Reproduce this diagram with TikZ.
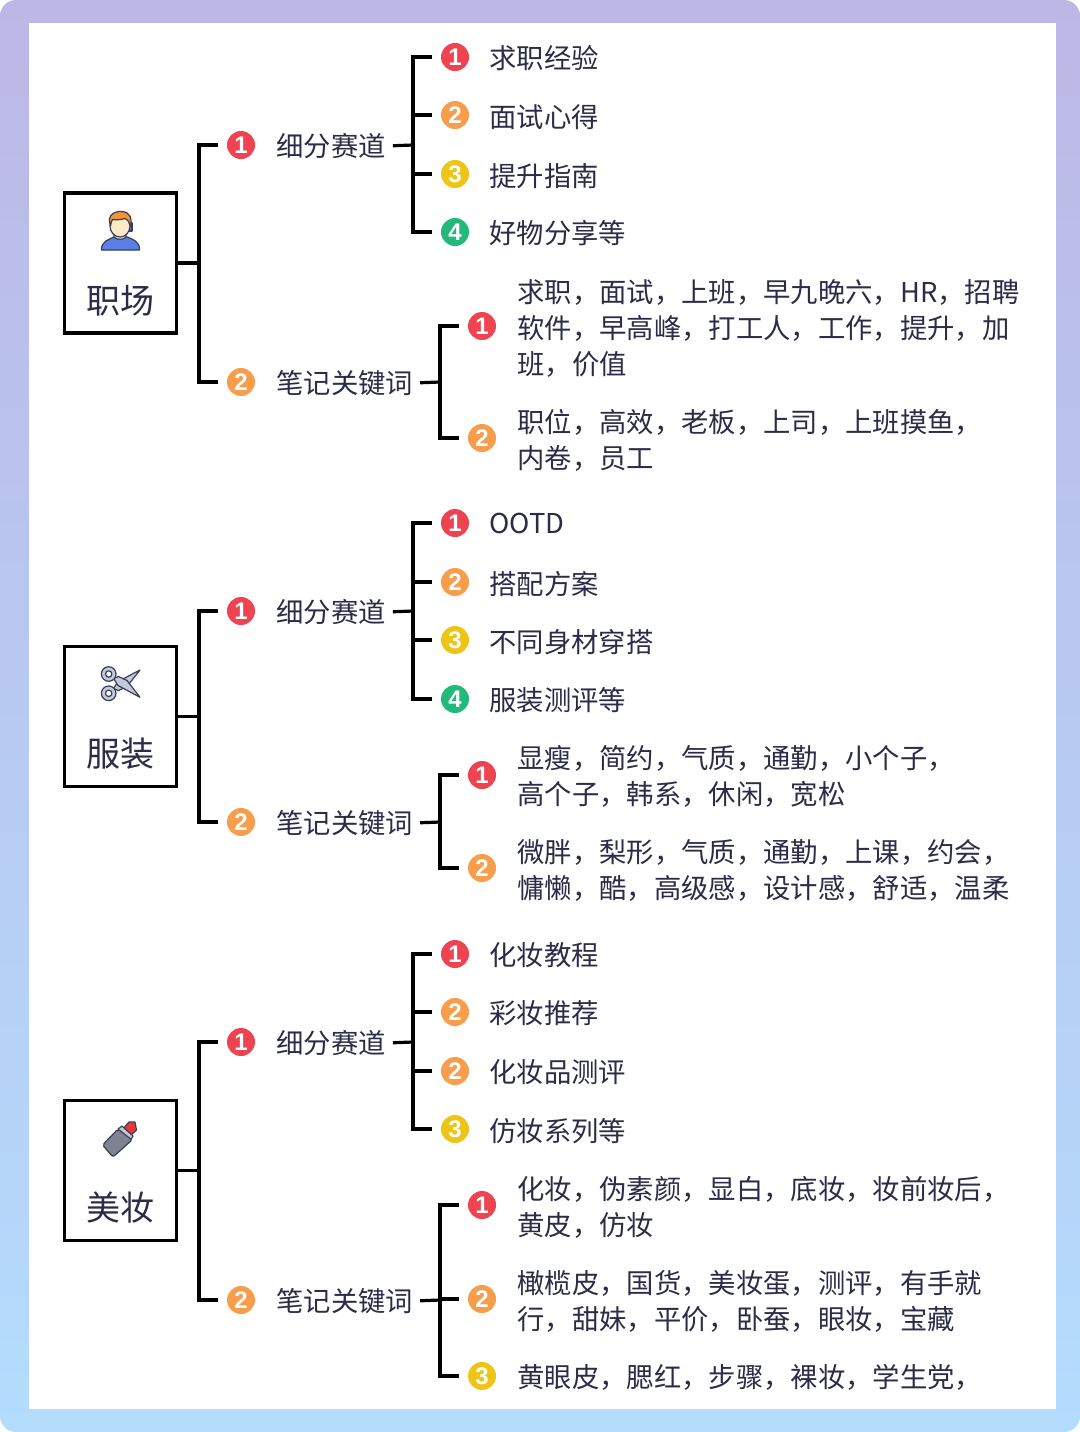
\documentclass[tikz,border=0pt]{standalone}
\usepackage{fontspec}
\setmainfont{Noto Sans CJK SC}
\newfontfamily\digitfont{Liberation Sans}
\definecolor{cred}{HTML}{EE4350}
\definecolor{corange}{HTML}{F79D4B}
\definecolor{cyellow}{HTML}{ECC516}
\definecolor{cgreen}{HTML}{22B97C}
\definecolor{ink}{HTML}{2C2C48}
\definecolor{icoline}{HTML}{3A3F55}
\definecolor{bgtop}{HTML}{BDB7E6}
\definecolor{bgbot}{HTML}{B3DCFD}
\definecolor{icoblue}{HTML}{5B7FE6}
\definecolor{icohair}{HTML}{F5923A}
\definecolor{icoskin}{HTML}{FBEBC8}
\definecolor{icogrey}{HTML}{C3C8DC}
\definecolor{icobody}{HTML}{7D8390}
\definecolor{icored}{HTML}{E23B3B}
\tikzset{
  conn/.style={draw=black,line width=2.4pt,line cap=butt,line join=miter},
  elbow/.style={conn,shorten >=6.75pt},
  stem/.style={conn,shorten <=5pt},
  rootbox/.style={draw=black,line width=2.8pt,fill=white,minimum width=84pt,minimum height=105pt,inner sep=0pt,outer sep=0pt},
  rootlabel/.style={font=\fontsize{25.5}{30}\selectfont,text=ink,inner sep=0pt},
  sublabel/.style={font=\fontsize{20.5}{27}\selectfont,text=ink,inner sep=0pt,anchor=west,xshift=-0.5pt},
  leaf/.style={font=\fontsize{20.5}{27}\selectfont,text=ink,inner sep=0pt,anchor=west,align=left,xshift=-0.5pt},
  badge/.style={circle,minimum size=21pt,inner sep=0pt,outer sep=0pt,text=white,font=\digitfont\bfseries\fontsize{18}{18}\selectfont},
  ico/.style={draw=icoline,line width=0.9pt,line join=round},
}
\newcommand{\bdg}[5]{\node[badge,fill=#4] (#1) at (#2,#3) {#5};}
\begin{document}
\begin{tikzpicture}[x=0.75pt,y=-0.75pt]
\useasboundingbox (0,0) rectangle (1080,1432);
\shade[top color=bgtop,bottom color=bgbot,rounded corners=12pt] (0,0) rectangle (1080,1432);
\fill[white] (29,23) rectangle (1056,1409);

% ---------- group 1
\node[rootbox] (boxA) at (120.5,263) {};
\node[rootlabel] (nameA) at (120.5,301) {职场};
\coordinate (jA) at (199,263);
\bdg{aA}{241}{145}{cred}{1}
\bdg{aB}{241}{382}{corange}{2}
\node[sublabel] (subA1) at (277,146) {细分赛道};
\node[sublabel] (subA2) at (277,383) {笔记关键词};
\coordinate (jA1) at (413,145);
\coordinate (jA2) at (440,382);
\bdg{a11}{455}{57}{cred}{1}
\bdg{a12}{455}{115}{corange}{2}
\bdg{a13}{455}{174}{cyellow}{3}
\bdg{a14}{455}{232}{cgreen}{4}
\node[leaf] (ta11) at (490,58) {求职经验};
\node[leaf] (ta12) at (490,117) {面试心得};
\node[leaf] (ta13) at (490,176) {提升指南};
\node[leaf] (ta14) at (490,233) {好物分享等};
\bdg{a21}{482}{326}{cred}{1}
\bdg{a22}{482}{438}{corange}{2}
\node[leaf] (ta21) at (518,328) {求职，面试，上班，早九晚六，HR，招聘\\软件，早高峰，打工人，工作，提升，加\\班，价值};
\node[leaf] (ta22) at (518,440) {职位，高效，老板，上司，上班摸鱼，\\内卷，员工};
\draw[conn] (boxA.east) -- (jA);
\draw[elbow] (jA) |- (aA);
\draw[elbow] (jA) |- (aB);
\draw[stem] (subA1.east) -- (jA1);
\draw[stem] (subA2.east) -- (jA2);
\foreach \t in {a11,a12,a13,a14} \draw[elbow] (jA1) |- (\t);
\foreach \t in {a21,a22} \draw[elbow] (jA2) |- (\t);

% person icon
\filldraw[ico,fill=icoblue] (101.5,250) .. controls (101,241) and (110,239) .. (115,236.5) -- (126,236.5) .. controls (132,239) and (140,241) .. (139.5,250) -- cycle;
\filldraw[ico,fill=icoskin] (114,231) -- (114,237) .. controls (116,240) and (124,240) .. (126,237) -- (126,231) -- cycle;
\filldraw[ico,fill=icoblue] (128,223) rectangle (132,231);
\filldraw[ico,fill=icoskin] (120,226) ellipse (10 and 11);
\filldraw[ico,fill=icohair] (110.5,226) .. controls (106,214) and (116,211) .. (122,211.5) .. controls (130,212) and (133,219) .. (130,226) .. controls (129,221) and (127,219) .. (125,218.5) .. controls (120,220) and (115,220) .. (112.5,219.5) .. controls (111.5,221) and (111,223) .. (110.5,226) -- cycle;

% ---------- group 2
\node[rootbox] (boxB) at (120.5,716.5) {};
\node[rootlabel] (nameB) at (120.5,754) {服装};
\coordinate (jB) at (199,716.5);
\bdg{bA}{241}{611}{cred}{1}
\bdg{bB}{241}{822}{corange}{2}
\node[sublabel] (subB1) at (277,612) {细分赛道};
\node[sublabel] (subB2) at (277,823) {笔记关键词};
\coordinate (jB1) at (413,611);
\coordinate (jB2) at (440,822);
\bdg{b11}{455}{523}{cred}{1}
\bdg{b12}{455}{582}{corange}{2}
\bdg{b13}{455}{640}{cyellow}{3}
\bdg{b14}{455}{699}{cgreen}{4}
\node[leaf] (tb11) at (490,523) {OOTD};
\node[leaf] (tb12) at (490,584) {搭配方案};
\node[leaf] (tb13) at (490,642) {不同身材穿搭};
\node[leaf] (tb14) at (490,700) {服装测评等};
\bdg{b21}{482}{775}{cred}{1}
\bdg{b22}{482}{868}{corange}{2}
\node[leaf] (tb21) at (518,776) {显瘦，简约，气质，通勤，小个子，\\高个子，韩系，休闲，宽松};
\node[leaf] (tb22) at (518,870) {微胖，梨形，气质，通勤，上课，约会，\\慵懒，酷，高级感，设计感，舒适，温柔};
\draw[conn] (boxB.east) -- (jB);
\draw[elbow] (jB) |- (bA);
\draw[elbow] (jB) |- (bB);
\draw[stem] (subB1.east) -- (jB1);
\draw[stem] (subB2.east) -- (jB2);
\foreach \t in {b11,b12,b13,b14} \draw[elbow] (jB1) |- (\t);
\foreach \t in {b21,b22} \draw[elbow] (jB2) |- (\t);

% scissors icon
\filldraw[ico,fill=icogrey] (113.5,688.5) -- (118,681.5) -- (140,670) -- (127,686.5) -- (118.5,690.5) -- cycle;
\filldraw[ico,fill=icogrey] (113.5,678.5) -- (118,685.5) -- (140,697.3) -- (127,680.5) -- (118.5,676.5) -- cycle;
\filldraw[ico,fill=icogrey,even odd rule] (108.7,674) circle (7.3) (108.7,674) circle (3.2);
\filldraw[ico,fill=icogrey,even odd rule] (108.7,693.3) circle (7.3) (108.7,693.3) circle (3.2);

% ---------- group 3
\node[rootbox] (boxC) at (120.5,1170.5) {};
\node[rootlabel] (nameC) at (120.5,1208) {美妆};
\coordinate (jC) at (199,1170.5);
\bdg{cA}{241}{1042}{cred}{1}
\bdg{cB}{241}{1300}{corange}{2}
\node[sublabel] (subC1) at (277,1043) {细分赛道};
\node[sublabel] (subC2) at (277,1301) {笔记关键词};
\coordinate (jC1) at (413,1042);
\coordinate (jC2) at (440,1300);
\bdg{c11}{455}{954}{cred}{1}
\bdg{c12}{455}{1012}{corange}{2}
\bdg{c13}{455}{1071}{corange}{2}
\bdg{c14}{455}{1129}{cyellow}{3}
\node[leaf] (tc11) at (490,955) {化妆教程};
\node[leaf] (tc12) at (490,1013) {彩妆推荐};
\node[leaf] (tc13) at (490,1072) {化妆品测评};
\node[leaf] (tc14) at (490,1131) {仿妆系列等};
\bdg{c21}{482}{1205}{cred}{1}
\bdg{c22}{482}{1299}{corange}{2}
\bdg{c23}{482}{1376}{cyellow}{3}
\node[leaf] (tc21) at (518,1207) {化妆，伪素颜，显白，底妆，妆前妆后，\\黄皮，仿妆};
\node[leaf] (tc22) at (518,1301) {橄榄皮，国货，美妆蛋，测评，有手就\\行，甜妹，平价，卧蚕，眼妆，宝藏};
\node[leaf] (tc23) at (518,1377) {黄眼皮，腮红，步骤，裸妆，学生党，};
\draw[conn] (boxC.east) -- (jC);
\draw[elbow] (jC) |- (cA);
\draw[elbow] (jC) |- (cB);
\draw[stem] (subC1.east) -- (jC1);
\draw[stem] (subC2.east) -- (jC2);
\foreach \t in {c11,c12,c13,c14} \draw[elbow] (jC1) |- (\t);
\foreach \t in {c21,c22,c23} \draw[elbow] (jC2) |- (\t);

% lipstick icon
\filldraw[ico,fill=icored] (122,1130) -- (129,1122) -- (135,1122) -- (136.5,1130) -- (131,1135) -- cycle;
\filldraw[ico,fill=icogrey] (118,1129) -- (122,1126) -- (133,1136) -- (130,1141) -- cycle;
\filldraw[ico,fill=icobody,rounded corners=1.5pt] (102.5,1145) -- (118,1129) -- (132,1140) -- (113,1157) -- cycle;
\end{tikzpicture}
\end{document}
